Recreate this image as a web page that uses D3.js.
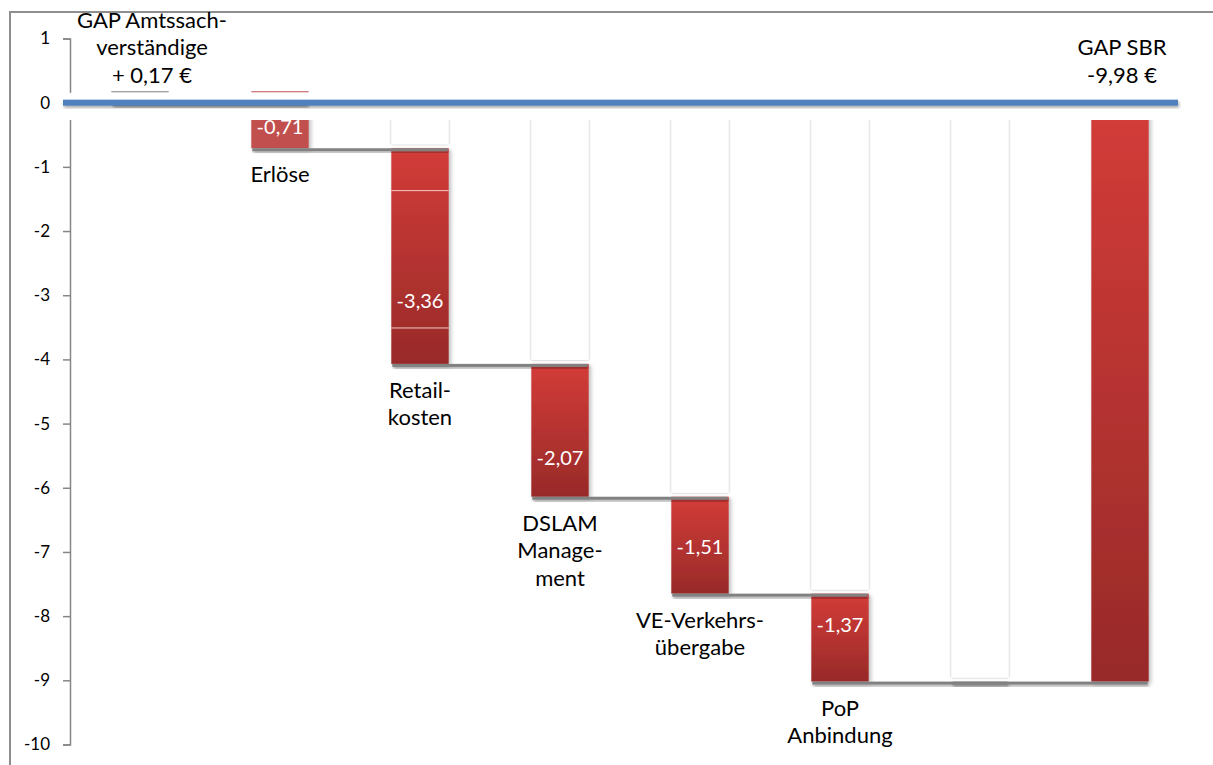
<!DOCTYPE html>
<html>
<head>
<meta charset="utf-8">
<script src="https://cdn.jsdelivr.net/npm/d3@7"></script>
<style>
  body { margin: 0; background: #fff; }
  svg { display: block; }
  text { font-family: Lato, "Open Sans", sans-serif; fill: #000; }
</style>
</head>
<body>
<svg id="chart" width="1213" height="765"></svg>
<script>
// ---- data ----
const categories = ["GAP Amtssachverständige", "Erlöse", "Retailkosten", "DSLAM Management",
                    "VE-Verkehrsübergabe", "PoP Anbindung", "Zwischenstand", "GAP SBR"];
const categoryLines = [
  ["GAP Amtssach-", "verständige", "+ 0,17 €"],
  ["Erlöse"],
  ["Retail-", "kosten"],
  ["DSLAM", "Manage-", "ment"],
  ["VE-Verkehrs-", "übergabe"],
  ["PoP", "Anbindung"],
  [],
  ["GAP SBR", "-9,98 €"]
];
const startValue = 0.17;                              // GAP Amtssachverständige
const stepValues = [-0.71, -3.36, -2.07, -1.51, -1.37]; // Erlöse … PoP Anbindung
const retailBreaks = [-1.37, -3.51];                  // segment seams inside the Retail bar
const yTicks = [1, 0, -1, -2, -3, -4, -5, -6, -7, -8, -9, -10];
// where each value label sits along its bar (0 = top, 1 = bottom)
const valueLabelAt = [0.53, 0.71, 0.71, 0.52, 0.36];

// ---- setup ----
const de = d3.formatLocale({ decimal: ",", thousands: ".", grouping: [3], currency: ["", " €"], minus: "-" });
const fmtVal = de.format(".2f");
const fmtTick = de.format("d");

const svg = d3.select("#chart");
const defs = svg.append("defs");

const y = d3.scaleLinear().domain([-10, 1]).range([744.5, 38.5]);
const x = d3.scaleBand().domain(categories).range([70, 1190]).paddingInner(0.59).paddingOuter(0.295);
const bw = x.bandwidth();

// gradient for the red bars
const grad = defs.append("linearGradient").attr("id", "redGrad").attr("x1", 0).attr("y1", 0).attr("x2", 0).attr("y2", 1);
grad.append("stop").attr("offset", "0%").attr("stop-color", "#d33c38");
grad.append("stop").attr("offset", "100%").attr("stop-color", "#982a29");

function shadow(id, dx, dy, sd, op) {
  const f = defs.append("filter").attr("id", id)
    .attr("x", "-50%").attr("y", "-50%").attr("width", "200%").attr("height", "200%");
  f.append("feDropShadow").attr("dx", dx).attr("dy", dy).attr("stdDeviation", sd)
    .attr("flood-color", "#000").attr("flood-opacity", op);
}
shadow("barShadow", 2, 2, 2, 0.28);
shadow("edgeShadow", 0, 0, 1.3, 0.35);
shadow("lineShadow", 1, 2, 1.5, 0.35);

// cumulative steps
let cum = 0;
const steps = stepValues.map((v, i) => {
  const top = cum;
  cum += v;
  return { cat: categories[i + 1], top, bottom: cum, v, at: valueLabelAt[i], lines: categoryLines[i + 1] };
});
const total = cum;

// outer frame
svg.append("rect").attr("x", 10).attr("y", 12).attr("width", 1260).attr("height", 800)
  .attr("fill", "none").attr("stroke", "#8e8e8e").attr("stroke-width", 2);

// ---- y axis ----
const axis = svg.append("g").attr("transform", "translate(70,0)")
  .call(d3.axisLeft(y).tickValues(yTicks).tickSize(7).tickPadding(13).tickFormat(fmtTick));
axis.selectAll("path, line").attr("stroke", "#868686").attr("stroke-width", 1.5);
axis.selectAll("text").style("font-family", "Lato, sans-serif").style("font-size", "17px").attr("fill", "#000");

// ---- invisible base bars (white with soft edges) ----
const baseBars = steps.slice(1).map(s => ({ cat: s.cat, level: s.top }));
baseBars.push({ cat: categories[6], level: total });
svg.append("g").selectAll("rect").data(baseBars).join("rect")
  .attr("x", d => x(d.cat)).attr("width", bw)
  .attr("y", y(0)).attr("height", d => y(d.level) - y(0) - 4)
  .attr("fill", "#fff").attr("filter", "url(#edgeShadow)");

// ---- red step bars ----
const bars = svg.append("g");
bars.selectAll("rect").data(steps).join("rect")
  .attr("x", d => x(d.cat)).attr("width", bw)
  .attr("y", d => y(d.top)).attr("height", d => y(d.bottom) - y(d.top))
  .attr("fill", (d, i) => i === 0 ? "#c0504d" : "url(#redGrad)")
  .attr("filter", "url(#barShadow)");

// total bar
bars.append("rect")
  .attr("x", x(categories[7])).attr("width", bw)
  .attr("y", y(0)).attr("height", y(total) - y(0))
  .attr("fill", "url(#redGrad)").attr("filter", "url(#barShadow)");

// seams inside the Retail bar
svg.append("g").selectAll("rect").data(retailBreaks).join("rect")
  .attr("x", x(categories[2])).attr("width", bw)
  .attr("y", d => y(d) - 0.5).attr("height", 1)
  .attr("fill", "#f1c9c8");

// white band right under the zero line
svg.append("rect").attr("x", 63).attr("width", 1190 - 63)
  .attr("y", y(startValue * 0.9)).attr("height", y(-0.27) - y(startValue * 0.9))
  .attr("fill", "#fff");

// ---- connectors ----
const connectors = [{ from: categories[0], to: categories[1], level: 0 }];
steps.forEach((s, i) => connectors.push({ from: s.cat, to: categories[i + 2], level: s.bottom }));
connectors.push({ from: categories[6], to: categories[7], level: total });
svg.append("g").selectAll("rect").data(connectors).join("rect")
  .attr("x", d => x(d.from) + 1).attr("width", d => x(d.to) + bw - 2 - x(d.from))
  .attr("y", d => y(d.level)).attr("height", 3)
  .attr("fill", "#818181").attr("filter", "url(#lineShadow)");

// zero line
svg.append("rect").attr("x", 63).attr("width", 1178 - 63).attr("y", y(0) - 3).attr("height", 6)
  .attr("fill", "#4f81bd").attr("filter", "url(#lineShadow)");

// outlines of the starting value
svg.append("rect").attr("x", x(categories[0])).attr("width", bw)
  .attr("y", y(startValue) - 0.5).attr("height", 1).attr("fill", "#7f7f7f");
svg.append("rect").attr("x", x(categories[1])).attr("width", bw)
  .attr("y", y(startValue) - 0.5).attr("height", 1).attr("fill", "#c0504d");

// ---- value labels ----
svg.append("g").selectAll("text").data(steps).join("text")
  .attr("x", d => x(d.cat) + bw / 2)
  .attr("y", d => y(d.top) + d.at * (y(d.bottom) - y(d.top)))
  .attr("dy", "0.35em").attr("text-anchor", "middle")
  .style("font-size", "20px").style("fill", "#fff")
  .text(d => fmtVal(d.v));

// ---- category labels ----
const lineH = 27.5;
const labelG = svg.append("g").style("font-size", "22px");
steps.forEach(s => {
  s.lines.forEach((t, k) => {
    labelG.append("text").attr("x", x(s.cat) + bw / 2).attr("y", y(s.bottom) + 34 + k * lineH)
      .attr("text-anchor", "middle").text(t);
  });
});
[0, 7].forEach(i => {
  const lines = categoryLines[i];
  const nudge = i === 0 ? 12 : 2;
  lines.forEach((t, k) => {
    labelG.append("text").attr("x", x(categories[i]) + bw / 2 + nudge)
      .attr("y", y(0) - 20 - (lines.length - 1 - k) * lineH)
      .attr("text-anchor", "middle").text(t);
  });
});
</script>
</body>
</html>
